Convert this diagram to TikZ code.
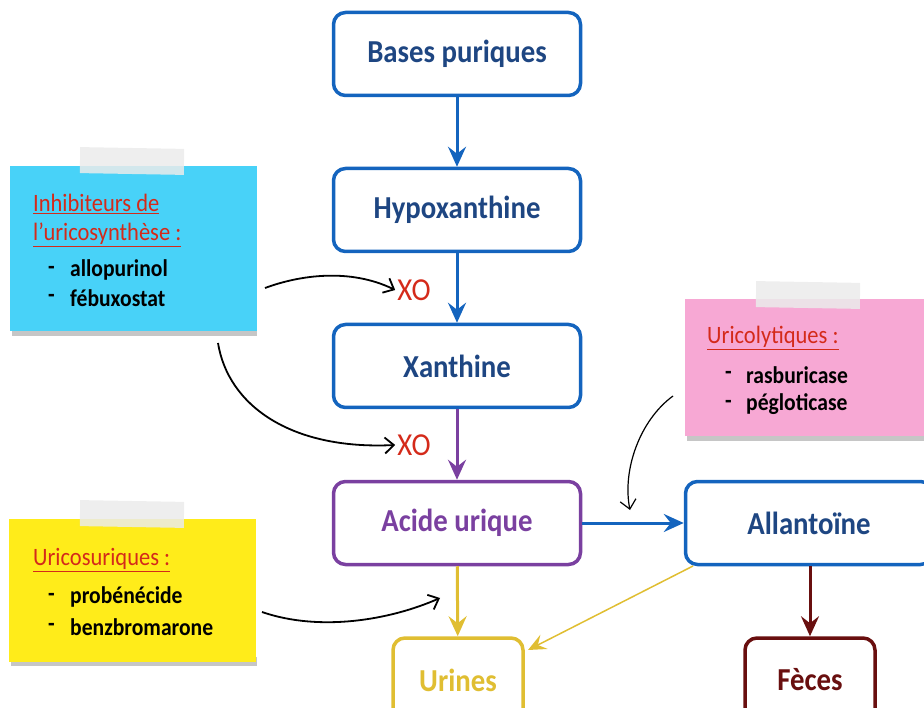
\documentclass[tikz,border=0pt]{standalone}
\usepackage{fontspec}
\setmainfont{Carlito}[FakeStretch=0.9]
\usetikzlibrary{arrows.meta}
\definecolor{bxblue}{RGB}{20,100,190}
\definecolor{txblue}{RGB}{30,70,130}
\definecolor{xored}{RGB}{212,42,26}
\definecolor{purp}{RGB}{122,64,160}
\definecolor{yell}{RGB}{224,190,50}
\definecolor{dred}{RGB}{105,15,15}
\definecolor{noteblue}{RGB}{72,210,248}
\definecolor{notepink}{RGB}{247,168,212}
\definecolor{noteyel}{RGB}{255,236,26}
\definecolor{tape}{RGB}{235,235,235}
\tikzset{
  box/.style={draw=#1, text=#1, line width=3.5pt, rounded corners=12pt, fill=white, minimum width=247pt, minimum height=83pt, font=\fontsize{32}{34}\selectfont\bfseries},
  note/.style={anchor=north west, inner sep=0pt, minimum width=247pt},
  tapebox/.style={fill=tape, opacity=0.85, minimum width=104pt, minimum height=26pt, inner sep=0pt},
  title/.style={anchor=west, inner sep=0pt, text=xored, font=\fontsize{25}{27}\selectfont},
  item/.style={anchor=west, inner sep=0pt, font=\fontsize{24}{26}\selectfont\bfseries},
  flow/.style={line width=3pt, -{Stealth[length=20pt,width=18pt,inset=7pt]}},
  inh/.style={line width=1.8pt, -{Straight Barb[length=9pt,width=16pt]}},
  xo/.style={text=xored, font=\fontsize{32}{34}\selectfont, inner sep=2pt},
}
\newcommand{\ul}[1]{\underline{#1}}
\begin{document}
\begin{tikzpicture}[x=1pt,y=-1pt]
\useasboundingbox (0,0) rectangle (924,708);
% sticky notes
\fill[gray, opacity=0.45] (12,326) rectangle (257,336);
\node[note, fill=noteblue, minimum height=165pt] (nblue) at (10,166) {};
\node[tapebox, rotate=-1] (tblue) at (132,161) {};
\fill[gray, opacity=0.45] (687,431) rectangle (924,441);
\node[note, fill=notepink, minimum height=137pt, minimum width=239pt] (npink) at (685,299) {};
\node[tapebox, rotate=-1] (tpink) at (808,295) {};
\fill[gray, opacity=0.45] (11,657) rectangle (257,666);
\node[note, fill=noteyel, minimum height=143pt] (nyel) at (9,519) {};
\node[tapebox, rotate=-1] (tyel) at (132,514) {};
% note texts
\node[title] (t1) at (33,204) {\ul{Inhibiteurs de}};
\node[title] (t2) at (33,235) {\ul{l’uricosynthèse :}};
\node[item] (d1) at (48,270) {-};
\node[item] (i1) at (70,270) {allopurinol};
\node[item] (d2) at (48,298) {-};
\node[item] (i2) at (70,298) {fébuxostat};
\node[title] (t3) at (707,338) {\ul{Uricolytiques :}};
\node[item] (d3) at (725,375) {-};
\node[item] (i3) at (746,375) {rasburicase};
\node[item] (d4) at (725,404) {-};
\node[item] (i4) at (746,404) {pégloticase};
\node[title] (t4) at (33,560) {\ul{Uricosuriques :}};
\node[item] (d5) at (48,597) {-};
\node[item] (i5) at (70,597) {probénécide};
\node[item] (d6) at (48,627) {-};
\node[item] (i6) at (70,627) {benzbromarone};
% main boxes
\node[box=bxblue, text=txblue] (bases) at (457,54) {Bases puriques};
\node[box=bxblue, text=txblue] (hypo) at (457,210) {Hypoxanthine};
\node[box=bxblue, text=txblue] (xan) at (457,366) {Xanthine};
\node[box=purp] (acide) at (457,523) {Acide urique};
\node[box=bxblue, text=txblue] (allan) at (809,523) {Allantoïne};
\node[box=yell, minimum width=130pt, minimum height=84pt] (urines) at (458,680) {Urines};
\node[box=dred, minimum width=130pt, minimum height=84pt] (feces) at (810,680) {Fèces};
% XO labels
\node[xo] (xo1) at (414,290) {XO};
\node[xo] (xo2) at (414,445) {XO};
% flow arrows
\draw[flow, bxblue] (bases) -- (hypo);
\draw[flow, bxblue] (hypo) -- (xan);
\draw[flow, purp] (xan) -- (acide);
\draw[flow, bxblue] (acide) -- (allan);
\draw[flow, yell] (acide) -- (urines);
\draw[flow, dred] (allan.south -| feces.north) -- (feces);
\coordinate (asw) at (693,566);
\coordinate (une) at (528,650);
\draw[yell, line width=1.5pt, -{Stealth[length=18pt,width=16pt,inset=7pt]}] (asw) -- (une);
% inhibitor curves
\coordinate (c1s) at (265,288);
\coordinate (c2s) at (218,343);
\coordinate (c3s) at (673,396);
\coordinate (c3e) at (630,510);
\coordinate (c4s) at (262,612);
\coordinate (c4e) at (440,598);
\draw[inh] (c1s) .. controls (300,275) and (350,268) .. (xo1.west);
\draw[inh] (c2s) .. controls (228,405) and (290,450) .. (xo2.west);
\draw[inh, line width=1.2pt] (c3s) .. controls (640,420) and (622,470) .. (c3e);
\draw[inh] (c4s) .. controls (320,632) and (390,620) .. (c4e);
\end{tikzpicture}
\end{document}
